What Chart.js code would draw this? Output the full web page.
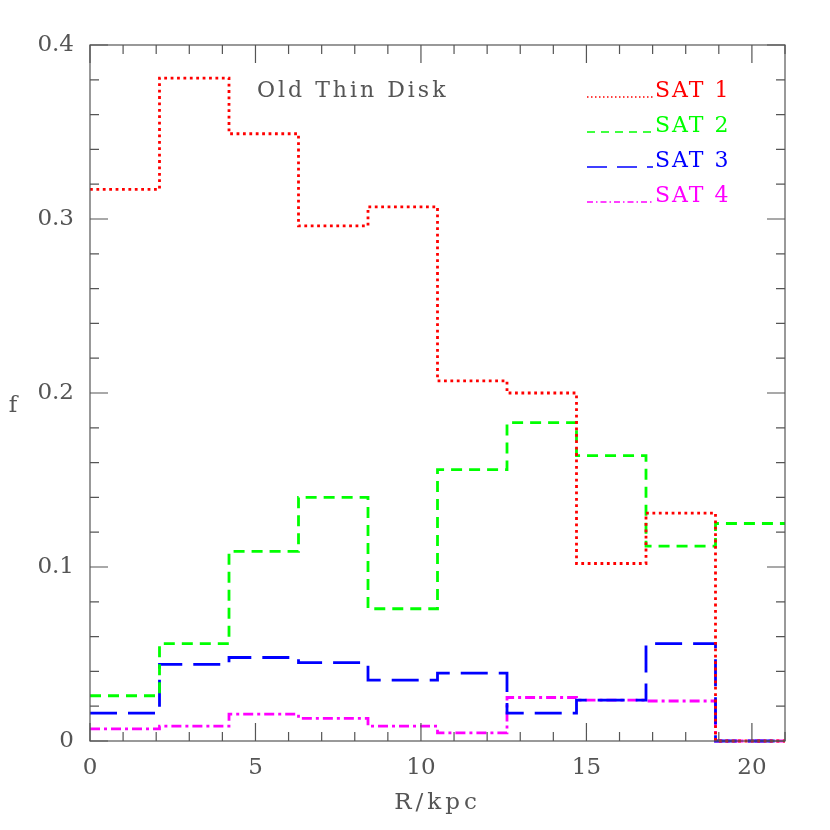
<!DOCTYPE html>
<html>
<head>
    <title>Old Thin Disk</title>
    <script src="https://cdn.jsdelivr.net/npm/chart.js@4.4.0/dist/chart.umd.min.js"></script>
    <style>
        body { margin: 0; background: #fff; }
        #wrap { width: 830px; height: 830px; }
    </style>
</head>
<body>
    <div id="wrap"><canvas id="chartCanvas"></canvas></div>

    <script>
        // bin edges (R/kpc) and fractions per bin
        const binEdges = [0, 2.1, 4.2, 6.3, 8.4, 10.5, 12.6, 14.7, 16.8, 18.9, 21];
        const sat1 = [0.317, 0.381, 0.349, 0.296, 0.307, 0.207, 0.200, 0.102, 0.131, 0.0];
        const sat2 = [0.026, 0.056, 0.109, 0.140, 0.076, 0.156, 0.183, 0.164, 0.112, 0.125];
        const sat3 = [0.016, 0.044, 0.048, 0.045, 0.035, 0.039, 0.016, 0.0235, 0.056, 0.0];
        const sat4 = [0.007, 0.0085, 0.0155, 0.013, 0.0085, 0.0047, 0.025, 0.0235, 0.023, 0.0];
        const seriesNames = ['SAT 1', 'SAT 2', 'SAT 3', 'SAT 4'];
        const xMajorTicks = [0, 5, 10, 15, 20];
        const yMajorTicks = [0, 0.1, 0.2, 0.3, 0.4];

        const colors = ['#ff0000', '#00ff00', '#0000ff', '#ff00ff'];
        const dashes = [[2.8, 3.6], [11, 7], [27, 11], [10, 4, 3, 4]];
        const legendDashes = [[1.5, 2.5], [8, 6], [20, 10], [6, 3, 1.5, 3]];
        const grey = '#555';
        const serif = '"DejaVu Serif", "Liberation Serif", serif';

        // histogram -> step points (left edges plus closing right edge)
        function steps(vals) {
            const pts = vals.map((v, i) => ({ x: binEdges[i], y: v }));
            pts.push({ x: binEdges[binEdges.length - 1], y: vals[vals.length - 1] });
            return pts;
        }

        const allSeries = [sat1, sat2, sat3, sat4];

        // frame, inside ticks, legend and labels
        const decor = {
            id: 'decor',
            afterDraw(chart) {
                const ctx = chart.ctx;
                const a = chart.chartArea;
                const xs = chart.scales.x, ys = chart.scales.y;
                ctx.save();
                ctx.strokeStyle = grey;
                ctx.lineWidth = 1.2;
                ctx.strokeRect(a.left, a.top, a.right - a.left, a.bottom - a.top);

                ctx.beginPath();
                for (let v = 0; v <= 21; v++) {
                    const px = xs.getPixelForValue(v);
                    const len = xMajorTicks.includes(v) ? 18 : 9;
                    ctx.moveTo(px, a.bottom); ctx.lineTo(px, a.bottom - len);
                    ctx.moveTo(px, a.top); ctx.lineTo(px, a.top + len);
                }
                for (let k = 0; k <= 20; k++) {
                    const v = k * 0.02;
                    const py = ys.getPixelForValue(v);
                    const len = (k % 5 === 0) ? 18 : 9;
                    ctx.moveTo(a.left, py); ctx.lineTo(a.left + len, py);
                    ctx.moveTo(a.right, py); ctx.lineTo(a.right - len, py);
                }
                ctx.stroke();

                // legend
                ctx.font = '22px ' + serif;
                ctx.letterSpacing = '2px';
                ctx.textBaseline = 'alphabetic';
                ctx.textAlign = 'left';
                seriesNames.forEach((name, i) => {
                    const y = 97 + i * 35;
                    ctx.strokeStyle = colors[i];
                    ctx.lineWidth = 1.5;
                    ctx.setLineDash(legendDashes[i]);
                    ctx.beginPath();
                    ctx.moveTo(587, y); ctx.lineTo(653, y);
                    ctx.stroke();
                    ctx.fillStyle = colors[i];
                    ctx.fillText(name, 655, y);
                });
                ctx.setLineDash([]);

                ctx.fillStyle = grey;
                ctx.letterSpacing = '3px';
                ctx.fillText('Old Thin Disk', 257, 97);

                ctx.font = '23px ' + serif;
                ctx.letterSpacing = '4px';
                ctx.textAlign = 'center';
                ctx.fillText('R/kpc', (a.left + a.right) / 2, 809);
                ctx.letterSpacing = '0px';
                ctx.fillText('f', 13, 412);
                ctx.restore();
            }
        };

        const ctx = document.getElementById('chartCanvas').getContext('2d');
        const chart = new Chart(ctx, {
            type: 'line',
            data: {
                datasets: allSeries.map((vals, i) => ({
                    label: seriesNames[i],
                    data: steps(vals),
                    borderColor: colors[i],
                    borderWidth: 2.8,
                    borderDash: dashes[i],
                    borderCapStyle: 'butt',
                    stepped: 'before',
                    pointRadius: 0,
                    fill: false,
                    clip: false,
                })),
            },
            options: {
                responsive: true,
                maintainAspectRatio: false,
                animation: false,
                layout: { padding: { top: 45, right: 45, left: 0, bottom: 0 } },
                plugins: {
                    legend: { display: false },
                    tooltip: { enabled: false },
                },
                scales: {
                    x: {
                        type: 'linear',
                        min: 0,
                        max: 21,
                        grid: { display: false, drawTicks: false },
                        border: { display: false },
                        afterBuildTicks: (s) => { s.ticks = xMajorTicks.map(v => ({ value: v })); },
                        afterFit: (s) => { s.height = 89; },
                        ticks: {
                            padding: 13,
                            color: grey,
                            font: { family: serif, size: 23 },
                            maxRotation: 0,
                        },
                    },
                    y: {
                        min: 0,
                        max: 0.4,
                        grid: { display: false, drawTicks: false },
                        border: { display: false },
                        afterBuildTicks: (s) => { s.ticks = yMajorTicks.map(v => ({ value: v })); },
                        afterFit: (s) => { s.width = 90; },
                        ticks: {
                            padding: 16,
                            color: grey,
                            font: { family: serif, size: 23 },
                            callback: (v) => String(Math.round(v * 10) / 10),
                        },
                    },
                },
            },
            plugins: [decor],
        });
    </script>
</body>
</html>
